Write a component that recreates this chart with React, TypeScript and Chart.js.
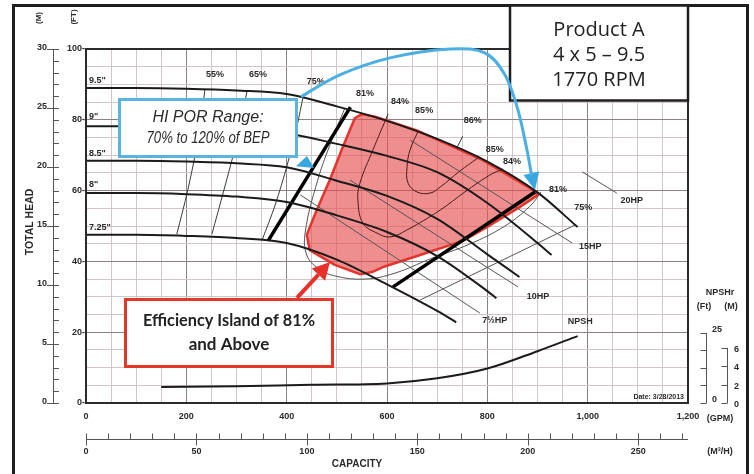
import React, { useEffect, useRef } from "react";
import { Chart, registerables } from "chart.js";

Chart.register(...registerables);

// ---------------- axis ticks ----------------
const gpmTicks = [0, 200, 400, 600, 800, 1000, 1200];
const gpmTickLabels = ["0", "200", "400", "600", "800", "1,000", "1,200"];
const m3hTicks = [0, 50, 100, 150, 200, 250];
const ftTicks = [0, 20, 40, 60, 80, 100];
const meterTicks = [0, 5, 10, 15, 20, 25, 30];
const npshFtMarks = [0, 6.25, 12.5, 18.75, 25];
const npshMMarks = [0, 2, 4, 6];

// ---------------- impeller curves (GPM, ft) ----------------
const dia95Q = [0, 100, 200, 300, 400, 500, 600, 700, 800, 900, 980];
const dia95H = [89, 89, 88.8, 88.3, 87.3, 83.8, 79.7, 74.6, 68.2, 59.5, 49.7];
const dia90Q = [0, 100, 200, 300, 400, 500, 600, 700, 800, 900, 928];
const dia90H = [78.2, 78.2, 78, 77.4, 76.2, 73.2, 69.8, 65.2, 56.5, 45.2, 41.8];
const dia85Q = [0, 100, 200, 300, 400, 500, 600, 700, 800, 864];
const dia85H = [68.4, 68.4, 68.2, 67.7, 66.6, 62.8, 58.5, 52, 42, 35.6];
const dia80Q = [0, 100, 200, 300, 400, 500, 600, 700, 800, 818];
const dia80H = [59.3, 59.3, 59, 58.3, 56.8, 53, 48.3, 41.5, 31.6, 29.6];
const dia725Q = [0, 100, 200, 300, 400, 500, 600, 700, 738];
const dia725H = [47.5, 47.5, 47.2, 46.6, 45.2, 40.5, 33.5, 26, 22.8];

// ---------------- NPSHr (GPM, ft) ----------------
const npshQ = [150, 300, 450, 600, 700, 800, 900, 980];
const npshFt = [5.7, 6.0, 6.5, 7.0, 8.8, 12.3, 18.5, 23.9];

// ---------------- efficiency contours ----------------
const eff55Q = [237, 223, 203, 181];
const eff55H = [88.4, 74.3, 60.2, 47.7];
const eff65Q = [321, 301, 275, 251];
const eff65H = [88.1, 74.3, 60.2, 47.7];
const eff75Q = [433, 421, 401, 377, 351];
const eff75H = [86.7, 78.5, 67.2, 55.9, 46];
const eff81Q = [516, 490, 462, 437, 440, 462, 496, 556, 616, 686, 765, 835, 885, 907];
const eff81H = [83.3, 74.3, 63, 48.3, 41.8, 38.1, 35.9, 35, 36.7, 40.7, 44.9, 50, 55.6, 59.6];
const eff84Q = [602, 572, 546, 542, 552, 580, 606, 640, 706, 755, 805, 831];
const eff84H = [81.6, 71.5, 62.1, 57.3, 50.8, 48, 46.9, 48.9, 54.5, 59.6, 64.4, 66.1];
const eff85Q = [662, 646, 640, 642, 660, 686, 706, 745, 781];
const eff85H = [76.8, 71.5, 66.7, 62.1, 59.6, 59.3, 61, 65.5, 69.2];
const eff86Q = [751, 739];
const eff86H = [75.4, 72];
const effEndQ = [666, 975];
const effEndH = [29.1, 50.3];

// ---------------- horsepower lines ----------------
const hp75Q = [427, 785];
const hp75H = [58.8, 25.4];
const hp10Q = [526, 861];
const hp10H = [63, 32.8];
const hp15Q = [646, 969];
const hp15H = [74.3, 45.2];
const hp20Q = [989, 1058];
const hp20H = [65.3, 59.3];

// ---------------- preferred operating region ----------------
const porLeftQ = [527, 363];
const porLeftH = [83.6, 45.8];
const porRightQ = [895, 612];
const porRightH = [59.6, 32.8];

// ---------------- efficiency island (81% and above) ----------------
const islandQ = [550, 576, 658, 791, 891, 901, 865, 799, 751, 666, 592, 570, 546, 496, 446, 440, 460, 486, 512, 536];
const islandH = [81.6, 80.9, 77.1, 68.6, 60.2, 58.8, 55.4, 49.7, 45.8, 41.8, 38.4, 37, 36.4, 39, 43.2, 47.5, 54.5, 63, 72.3, 80.5];

// ---------------- labels ----------------
const diaLabels = ['9.5"', '9"', '8.5"', '8"', '7.25"'];
const diaLabelH = [91.2, 80.8, 70.6, 61.6, 49.7];
const effLabels = ["55%", "65%", "75%", "81%", "84%", "85%", "86%", "85%", "84%", "81%", "75%"];
const effLabelQ = [257, 343, 458, 556, 626, 674, 771, 815, 849, 941, 991];
const effLabelH = [92.9, 92.7, 90.7, 87.3, 85.3, 82.5, 79.7, 71.5, 68.1, 60.2, 55.1];
const hpLabels = ["20HP", "15HP", "10HP", "7½HP", "NPSH"];
const hpLabelQ = [1088, 1005, 901, 815, 985];
const hpLabelH = [57.3, 44.1, 30.2, 23.2, 22.9];

// ---------------- callout arrows (GPM, ft) ----------------
const blueArrowQ = [431, 506, 606, 726, 795, 835, 861, 879, 887];
const blueArrowH = [86.7, 92.7, 97.5, 100, 98.9, 92.7, 82.8, 71.5, 65.3];
const blueTipQ = 895;
const blueTipH = 60.2;
const blueTriQ = [418.6, 440.5, 454.5];
const blueTriH = [66.9, 69.8, 66.4];
const redArrowQ = [420.6, 486.3];
const redArrowH = [29.7, 39.8];

const GPM_PER_M3H = 4.4029;
const M_TO_FT = 3.2808;

const W = 754;
const H = 474;
const INK = "#2a2a2a";
const F = (size: number, style = "bold") => `${style} ${size}px "Liberation Sans", Arial, sans-serif`;

const xy = (qs: number[], hs: number[]) => qs.map((q, i) => ({ x: q, y: hs[i] }));

const mk = (label: string, qs: number[], hs: number[], color: string, width: number, extra: any = {}) => ({
  label,
  data: xy(qs, hs),
  showLine: true,
  borderColor: color,
  backgroundColor: color,
  borderWidth: width,
  pointRadius: 0,
  pointHoverRadius: 0,
  fill: false,
  ...extra,
});

function arrowHead(ctx: CanvasRenderingContext2D, fx: number, fy: number, tx: number, ty: number, len: number, half: number, color: string) {
  const dx = tx - fx;
  const dy = ty - fy;
  const d = Math.hypot(dx, dy) || 1;
  const ux = dx / d;
  const uy = dy / d;
  const bx = tx - ux * len;
  const by = ty - uy * len;
  ctx.beginPath();
  ctx.moveTo(tx, ty);
  ctx.lineTo(bx - uy * half, by + ux * half);
  ctx.lineTo(bx + uy * half, by - ux * half);
  ctx.closePath();
  ctx.fillStyle = color;
  ctx.fill();
  return [bx, by];
}

function smooth(ctx: CanvasRenderingContext2D, pts: number[][]) {
  ctx.moveTo(pts[0][0], pts[0][1]);
  for (let i = 0; i < pts.length - 1; i++) {
    const p0 = pts[i - 1] || pts[i];
    const p1 = pts[i];
    const p2 = pts[i + 1];
    const p3 = pts[i + 2] || p2;
    ctx.bezierCurveTo(
      p1[0] + (p2[0] - p0[0]) / 6,
      p1[1] + (p2[1] - p0[1]) / 6,
      p2[0] - (p3[0] - p1[0]) / 6,
      p2[1] - (p3[1] - p1[1]) / 6,
      p2[0],
      p2[1]
    );
  }
}

const decor = {
  id: "decor",
  beforeDraw(chart: any) {
    const { ctx } = chart;
    ctx.save();
    ctx.fillStyle = "#fff";
    ctx.fillRect(0, 0, chart.width, chart.height);
    ctx.restore();
  },
  beforeDatasetsDraw(chart: any) {
    const { ctx, scales } = chart;
    const X = (q: number) => scales.x.getPixelForValue(q);
    const Y = (h: number) => scales.y.getPixelForValue(h);
    ctx.save();
    ctx.beginPath();
    islandQ.forEach((q, i) => {
      const px = X(q);
      const py = Y(islandH[i]);
      if (i === 0) ctx.moveTo(px, py);
      else ctx.lineTo(px, py);
    });
    ctx.closePath();
    ctx.fillStyle = "rgba(230,78,78,0.64)";
    ctx.fill();
    ctx.lineJoin = "round";
    ctx.lineWidth = 2.5;
    ctx.strokeStyle = "#e4342b";
    ctx.stroke();
    ctx.restore();
  },
  afterDatasetsDraw(chart: any) {
    const { ctx, chartArea: a, scales } = chart;
    const X = (q: number) => scales.x.getPixelForValue(q);
    const Y = (h: number) => scales.y.getPixelForValue(h);
    const YM = (m: number) => scales.yM.getPixelForValue(m);
    const YN = (f: number) => scales.yN.getPixelForValue(f);
    ctx.save();

    // plot frame
    ctx.strokeStyle = "#2b2b2b";
    ctx.lineWidth = 2;
    ctx.strokeRect(a.left, a.top, a.right - a.left, a.bottom - a.top);

    ctx.fillStyle = INK;
    // feet labels
    ctx.font = F(9);
    ctx.textAlign = "right";
    ctx.textBaseline = "middle";
    ftTicks.forEach((v) => ctx.fillText(`${v}-`, a.left - 1, Y(v)));

    // meter axis
    const mx = 53;
    ctx.strokeStyle = "#555";
    ctx.lineWidth = 1;
    ctx.beginPath();
    ctx.moveTo(mx + 0.5, YM(0));
    ctx.lineTo(mx + 0.5, YM(30));
    ctx.stroke();
    for (let m = 0; m <= 30; m++) {
      const yy = Math.round(YM(m)) + 0.5;
      ctx.beginPath();
      ctx.moveTo(m % 5 === 0 ? 47 : mx, yy);
      ctx.lineTo(mx + 6, yy);
      ctx.stroke();
    }
    ctx.font = F(9);
    ctx.textAlign = "right";
    meterTicks.forEach((v) => ctx.fillText(String(v), 47, YM(v) - 1));

    // rotated headers
    const rot = (s: string, x: number, y: number, font: string) => {
      ctx.save();
      ctx.translate(x, y);
      ctx.rotate(-Math.PI / 2);
      ctx.font = font;
      ctx.textAlign = "center";
      ctx.textBaseline = "middle";
      ctx.fillText(s, 0, 0);
      ctx.restore();
    };
    rot("(M)", 39, 18, F(8));
    rot("(FT)", 74, 17, F(8));
    rot("TOTAL HEAD", 30, 222, F(10.5));

    // GPM labels
    ctx.font = F(9);
    ctx.textAlign = "center";
    ctx.textBaseline = "middle";
    gpmTicks.forEach((v, i) => ctx.fillText(gpmTickLabels[i], X(v), 417));
    ctx.fillText("(GPM)", 720, 419);

    // m3/h axis
    const my = 439.5;
    ctx.strokeStyle = "#555";
    ctx.beginPath();
    ctx.moveTo(X(0), my);
    ctx.lineTo(X(1200), my);
    ctx.stroke();
    for (let m = 0; m * GPM_PER_M3H <= 1200; m += 10) {
      const xx = Math.round(X(m * GPM_PER_M3H)) + 0.5;
      ctx.beginPath();
      ctx.moveTo(xx, my - 6);
      ctx.lineTo(xx, m % 50 === 0 ? my + 6 : my);
      ctx.stroke();
    }
    m3hTicks.forEach((v) => ctx.fillText(String(v), X(v * GPM_PER_M3H), 452));
    ctx.fillText("(M³/H)", 720, 452);
    ctx.font = F(10);
    ctx.fillText("CAPACITY", 357, 464);

    // NPSHr scale
    ctx.font = F(9);
    ctx.fillText("NPSHr", 720, 293);
    ctx.fillText("(Ft)", 704, 307);
    ctx.fillText("(M)", 731, 307);
    const fx = 706.5;
    ctx.beginPath();
    ctx.moveTo(fx, YN(0));
    ctx.lineTo(fx, YN(25));
    ctx.stroke();
    npshFtMarks.forEach((v) => {
      const yy = Math.round(YN(v)) + 0.5;
      ctx.beginPath();
      ctx.moveTo(fx - 6, yy);
      ctx.lineTo(fx, yy);
      ctx.stroke();
    });
    ctx.textAlign = "left";
    ctx.fillText("25", 712, YN(25) - 3);
    ctx.fillText("0", 712, YN(0) - 3);
    const mxx = 727.5;
    ctx.beginPath();
    ctx.moveTo(mxx, YN(0));
    ctx.lineTo(mxx, YN(6 * M_TO_FT));
    ctx.stroke();
    npshMMarks.forEach((v) => {
      const yy = Math.round(YN(v * M_TO_FT)) + 0.5;
      ctx.beginPath();
      ctx.moveTo(mxx - 6, yy);
      ctx.lineTo(mxx, yy);
      ctx.stroke();
      ctx.fillText(String(v), 734, yy + 1);
    });

    // curve labels
    ctx.fillStyle = INK;
    ctx.font = F(9);
    ctx.textAlign = "left";
    diaLabels.forEach((s, i) => ctx.fillText(s, X(6), Y(diaLabelH[i])));
    ctx.textAlign = "center";
    effLabels.forEach((s, i) => ctx.fillText(s, X(effLabelQ[i]), Y(effLabelH[i])));
    hpLabels.forEach((s, i) => ctx.fillText(s, X(hpLabelQ[i]), Y(hpLabelH[i])));
    ctx.font = F(7);
    ctx.textAlign = "right";
    ctx.fillText("Date: 3/28/2013", a.right - 4, a.bottom - 6);

    // outer frame
    ctx.strokeStyle = "#1e1e1e";
    ctx.lineWidth = 3;
    ctx.strokeRect(13.5, 5.5, 734, 490);

    // Product box
    ctx.fillStyle = "#fff";
    ctx.fillRect(510, 5, 178, 96);
    ctx.lineWidth = 2.5;
    ctx.strokeRect(510, 5.5, 178, 95);
    ctx.fillStyle = "#222";
    ctx.font = `20px "Open Sans", "Noto Sans", sans-serif`;
    ctx.textAlign = "center";
    ctx.textBaseline = "middle";
    ctx.fillText("Product A", 599, 30);
    ctx.fillText("4 x 5 – 9.5", 599, 55);
    ctx.fillText("1770 RPM", 599, 80);

    // HI POR callout
    ctx.fillStyle = "#fff";
    ctx.fillRect(119, 99, 178, 58);
    ctx.strokeStyle = "#5bb3df";
    ctx.lineWidth = 3;
    ctx.strokeRect(119.5, 99.5, 177, 57);
    ctx.fillStyle = "#2b2b2b";
    ctx.font = F(16, "italic");
    ctx.fillText("HI POR Range:", 208, 118, 113);
    ctx.fillText("70% to 120% of BEP", 208, 139, 123);

    // blue curved arrow
    const bp = blueArrowQ.map((q, i) => [X(q), Y(blueArrowH[i])]);
    const tipX = X(blueTipQ);
    const tipY = Y(blueTipH);
    const last = bp[bp.length - 1];
    ctx.strokeStyle = "#4caee2";
    ctx.lineWidth = 3;
    ctx.lineCap = "round";
    const [bx, by] = arrowHead(ctx, last[0], last[1], tipX, tipY, 17, 8, "#3aa8e0");
    ctx.beginPath();
    smooth(ctx, [...bp, [bx, by]]);
    ctx.stroke();
    // small blue pointer
    ctx.beginPath();
    blueTriQ.forEach((q, i) => {
      if (i === 0) ctx.moveTo(X(q), Y(blueTriH[i]));
      else ctx.lineTo(X(q), Y(blueTriH[i]));
    });
    ctx.closePath();
    ctx.fillStyle = "#3aa8e0";
    ctx.fill();

    // Efficiency island callout
    ctx.fillStyle = "#fff";
    ctx.fillRect(125, 299, 208, 68);
    ctx.strokeStyle = "#e2382c";
    ctx.lineWidth = 3;
    ctx.strokeRect(125.5, 299.5, 207, 67);
    ctx.fillStyle = "#222";
    ctx.font = `bold 17px Lato, "Open Sans", sans-serif`;
    ctx.textAlign = "center";
    ctx.fillText("Efficiency Island of 81%", 229, 321, 172);
    ctx.fillText("and Above", 229, 345, 90);

    // red arrow
    const rx0 = X(redArrowQ[0]);
    const ry0 = Y(redArrowH[0]);
    const rx1 = X(redArrowQ[1]);
    const ry1 = Y(redArrowH[1]);
    const [rbx, rby] = arrowHead(ctx, rx0, ry0, rx1, ry1, 17, 9, "#e8302a");
    ctx.strokeStyle = "#e8302a";
    ctx.lineWidth = 4;
    ctx.lineCap = "butt";
    ctx.beginPath();
    ctx.moveTo(rx0, ry0);
    ctx.lineTo(rbx, rby);
    ctx.stroke();

    ctx.restore();
  },
};

export default function App() {
  const ref = useRef<HTMLCanvasElement>(null);
  useEffect(() => {
    const canvas = ref.current;
    if (!canvas) return;
    const MINOR = "#d2c6c6";
    const MAJOR = "#8c8282";
    const IMP = "#1b1b1b";
    const THIN = "#3a3a3a";
    const chart = new Chart(canvas, {
      type: "scatter",
      data: {
        datasets: [
          mk('9.5"', dia95Q, dia95H, IMP, 2, { cubicInterpolationMode: "monotone" }),
          mk('9"', dia90Q, dia90H, IMP, 2, { cubicInterpolationMode: "monotone" }),
          mk('8.5"', dia85Q, dia85H, IMP, 2, { cubicInterpolationMode: "monotone" }),
          mk('8"', dia80Q, dia80H, IMP, 2, { cubicInterpolationMode: "monotone" }),
          mk('7.25"', dia725Q, dia725H, IMP, 2, { cubicInterpolationMode: "monotone" }),
          mk("POR left", porLeftQ, porLeftH, "#000", 3.5),
          mk("POR right", porRightQ, porRightH, "#000", 3.5),
          mk("55%", eff55Q, eff55H, THIN, 1, { tension: 0.3 }),
          mk("65%", eff65Q, eff65H, THIN, 1, { tension: 0.3 }),
          mk("75%", eff75Q, eff75H, THIN, 1, { tension: 0.3 }),
          mk("81%", eff81Q, eff81H, "#555", 1, { tension: 0.4 }),
          mk("84%", eff84Q, eff84H, "#4a1c1c", 1, { tension: 0.4 }),
          mk("85%", eff85Q, eff85H, "#4a1c1c", 1, { tension: 0.4 }),
          mk("86%", eff86Q, eff86H, THIN, 1),
          mk("end", effEndQ, effEndH, "#555", 1),
          mk("7.5HP", hp75Q, hp75H, "#555", 1),
          mk("10HP", hp10Q, hp10H, "#555", 1),
          mk("15HP", hp15Q, hp15H, "#555", 1),
          mk("20HP", hp20Q, hp20H, "#555", 1),
          mk("NPSH", npshQ, npshFt, IMP, 2, { yAxisID: "yN", cubicInterpolationMode: "monotone" }),
        ],
      },
      options: {
        responsive: false,
        animation: false,
        devicePixelRatio: 1,
        events: [],
        layout: { padding: { left: 86, right: 66, top: 49, bottom: 71 } },
        plugins: { legend: { display: false }, tooltip: { enabled: false } },
        scales: {
          x: {
            type: "linear",
            min: 0,
            max: 1200,
            ticks: { display: false, stepSize: 50, autoSkip: false },
            grid: {
              drawTicks: false,
              color: (c: any) => (c.tick && c.tick.value % 200 === 0 ? MAJOR : MINOR),
            },
            border: { display: false },
            afterFit: (s: any) => {
              s.height = 0;
            },
          },
          y: {
            min: 0,
            max: 100,
            ticks: { display: false, stepSize: 5, autoSkip: false },
            grid: {
              drawTicks: false,
              color: (c: any) => (c.tick && c.tick.value % 20 === 0 ? MAJOR : MINOR),
            },
            border: { display: false },
            afterFit: (s: any) => {
              s.width = 0;
            },
          },
          yM: { display: false, min: 0, max: 30 },
          yN: { display: false, min: 0, max: 126.4 },
        },
      },
      plugins: [decor],
    } as any);
    return () => chart.destroy();
  }, []);
  return (
    <div style={{ position: "fixed", left: 0, top: 0, width: W, height: H, background: "#fff" }}>
      <canvas ref={ref} width={W} height={H} style={{ width: W, height: H, display: "block" }} />
    </div>
  );
}
